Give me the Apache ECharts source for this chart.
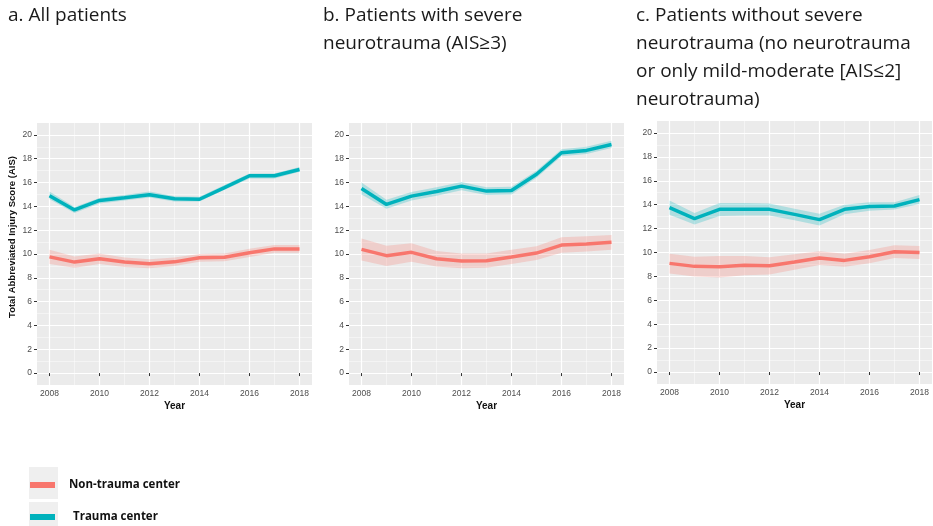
<!DOCTYPE html>
<html>
<head>
<meta charset="utf-8">
<script src="https://cdn.jsdelivr.net/npm/echarts@6/dist/echarts.min.js"></script>
<style>
  html, body { margin: 0; padding: 0; background: #fff; }
  #chart { width: 933px; height: 526px; }
</style>
</head>
<body>
<div id="chart"></div>
<script>
// years on the x axis
const years = [2008, 2009, 2010, 2011, 2012, 2013, 2014, 2015, 2016, 2017, 2018]
const xMajor = [2008, 2010, 2012, 2014, 2016, 2018]
const xMinor = [2009, 2011, 2013, 2015, 2017]
const yMajor = [0, 2, 4, 6, 8, 10, 12, 14, 16, 18, 20]
const yMinor = [1, 3, 5, 7, 9, 11, 13, 15, 17, 19]

const seriesNames = ['Non-trauma center', 'Trauma center']
const panelTitles = [
  ['a. All patients'],
  ['b. Patients with severe', 'neurotrauma (AIS≥3)'],
  ['c. Patients without severe', 'neurotrauma (no neurotrauma', 'or only mild-moderate [AIS≤2]', 'neurotrauma)']
]

// a. all patients
const aNonTrauma = [9.76, 9.32, 9.6, 9.32, 9.18, 9.34, 9.68, 9.73, 10.1, 10.43, 10.43]
const aNonTraumaLo = [9.15, 8.85, 9.15, 8.9, 8.8, 9.0, 9.35, 9.4, 9.75, 10.1, 10.1]
const aNonTraumaHi = [10.35, 9.8, 10.05, 9.7, 9.55, 9.7, 10.0, 10.05, 10.45, 10.75, 10.75]
const aTrauma = [14.9, 13.7, 14.5, 14.72, 14.98, 14.64, 14.6, 15.58, 16.57, 16.57, 17.1]
const aTraumaLo = [14.6, 13.45, 14.25, 14.5, 14.75, 14.4, 14.4, 15.4, 16.35, 16.35, 16.9]
const aTraumaHi = [15.25, 13.95, 14.7, 14.95, 15.25, 14.85, 14.8, 15.8, 16.75, 16.75, 17.3]

// b. severe neurotrauma
const bNonTrauma = [10.39, 9.86, 10.14, 9.6, 9.41, 9.44, 9.75, 10.08, 10.75, 10.84, 10.98]
const bNonTraumaLo = [9.45, 9.0, 9.35, 8.95, 8.8, 8.85, 9.15, 9.5, 10.1, 10.2, 10.35]
const bNonTraumaHi = [11.3, 10.7, 10.9, 10.25, 10.05, 10.05, 10.35, 10.65, 11.4, 11.5, 11.6]
const bTrauma = [15.5, 14.16, 14.86, 15.25, 15.7, 15.28, 15.33, 16.7, 18.5, 18.7, 19.2]
const bTraumaLo = [15.0, 13.8, 14.5, 14.9, 15.35, 14.95, 15.0, 16.4, 18.2, 18.4, 18.9]
const bTraumaHi = [16.0, 14.55, 15.2, 15.6, 16.05, 15.6, 15.65, 17.0, 18.8, 19.0, 19.5]

// c. without severe neurotrauma
const cNonTrauma = [9.09, 8.84, 8.81, 8.93, 8.9, 9.2, 9.54, 9.34, 9.65, 10.07, 9.99]
const cNonTraumaLo = [8.25, 8.0, 7.9, 8.1, 8.15, 8.55, 8.95, 8.8, 9.1, 9.55, 9.45]
const cNonTraumaHi = [9.9, 9.65, 9.7, 9.7, 9.6, 9.85, 10.1, 9.9, 10.2, 10.6, 10.55]
const cTrauma = [13.75, 12.83, 13.61, 13.61, 13.61, 13.19, 12.75, 13.61, 13.84, 13.89, 14.42]
const cTraumaLo = [13.15, 12.35, 13.05, 13.1, 13.1, 12.7, 12.25, 13.2, 13.5, 13.6, 14.05]
const cTraumaHi = [14.35, 13.3, 14.15, 14.15, 14.1, 13.65, 13.25, 14.0, 14.2, 14.2, 14.8]

const panels = [
  { nt: aNonTrauma, ntLo: aNonTraumaLo, ntHi: aNonTraumaHi, t: aTrauma, tLo: aTraumaLo, tHi: aTraumaHi },
  { nt: bNonTrauma, ntLo: bNonTraumaLo, ntHi: bNonTraumaHi, t: bTrauma, tLo: bTraumaLo, tHi: bTraumaHi },
  { nt: cNonTrauma, ntLo: cNonTraumaLo, ntHi: cNonTraumaHi, t: cTrauma, tLo: cTraumaLo, tHi: cTraumaHi }
]

const red = '#F8766D'
const teal = '#00B2BC'
const axisFont = 'Liberation Sans, Arial, sans-serif'

const grids = [
  { left: 37, top: 123, width: 275, height: 262 },
  { left: 349, top: 123, width: 275, height: 262 },
  { left: 657, top: 121, width: 275, height: 263 }
]

const chart = echarts.init(document.getElementById('chart'))

const xAxes = []
const yAxes = []
const series = []

grids.forEach((g, i) => {
  // main axes (labels, ticks, major grid)
  xAxes.push({
    type: 'value', gridIndex: i, min: 2007.5, max: 2018.5,
    axisLine: { show: false },
    axisTick: { show: true, customValues: xMajor, length: 3, lineStyle: { color: '#333', width: 1 } },
    axisLabel: { customValues: xMajor, formatter: v => String(v), color: '#4D4D4D', fontSize: 8.5, margin: 4, fontFamily: axisFont },
    splitLine: { show: true, lineStyle: { color: '#fff', width: 1.2 } },
    name: 'Year', nameLocation: 'middle', nameGap: 16,
    nameTextStyle: { fontWeight: 'bold', fontSize: 10, color: '#111', fontFamily: axisFont }
  })
  // minor grid
  xAxes.push({
    type: 'value', gridIndex: i, min: 2007.5, max: 2018.5,
    axisLine: { show: false },
    axisTick: { show: false, customValues: xMinor },
    axisLabel: { show: false },
    splitLine: { show: true, lineStyle: { color: 'rgba(255,255,255,0.75)', width: 0.6 } }
  })
  yAxes.push({
    type: 'value', gridIndex: i, min: -1, max: 21,
    axisLine: { show: false },
    axisTick: { show: true, customValues: yMajor, length: 3, lineStyle: { color: '#333', width: 1 } },
    axisLabel: { customValues: yMajor, color: '#4D4D4D', fontSize: 8.5, margin: 5, fontFamily: axisFont },
    splitLine: { show: true, lineStyle: { color: '#fff', width: 1.2 } }
  })
  yAxes.push({
    type: 'value', gridIndex: i, min: -1, max: 21,
    axisLine: { show: false },
    axisTick: { show: false, customValues: yMinor },
    axisLabel: { show: false },
    splitLine: { show: true, lineStyle: { color: 'rgba(255,255,255,0.75)', width: 0.6 } }
  })
})

// confidence band drawn as one polygon through the axis scale
const band = (lo, hi, color, idx) => ({
  type: 'custom',
  xAxisIndex: idx * 2,
  yAxisIndex: idx * 2,
  silent: true,
  z: 1,
  data: [[years[0], lo[0]]],
  renderItem: (params, api) => {
    const pts = []
    years.forEach((y, k) => pts.push(api.coord([y, hi[k]])))
    for (let k = years.length - 1; k >= 0; k--) pts.push(api.coord([years[k], lo[k]]))
    return { type: 'polygon', shape: { points: pts }, style: { fill: color, opacity: 0.25 } }
  }
})

const line = (name, vals, color, idx) => ({
  type: 'line',
  name: name,
  xAxisIndex: idx * 2,
  yAxisIndex: idx * 2,
  data: years.map((y, k) => [y, vals[k]]),
  symbol: 'none',
  color: color,
  lineStyle: { width: 3.5, color: color },
  z: 3
})

panels.forEach((p, i) => {
  series.push(line(seriesNames[0], p.nt, red, i))
  series.push(line(seriesNames[1], p.t, teal, i))
  series.push(band(p.ntLo, p.ntHi, red, i))
  series.push(band(p.tLo, p.tHi, teal, i))
})

// panel titles
const titleX = [8, 323, 636]
const graphics = []
panelTitles.forEach((lines, i) => {
  lines.forEach((txt, j) => {
    graphics.push({
      type: 'text', left: titleX[i], top: 6 + j * 28,
      style: { text: txt, fill: '#1a1a1a', font: '19px "Open Sans", sans-serif' }
    })
  })
})
// y axis title for panel a
graphics.push({
  type: 'text', x: 12, y: 237, rotation: Math.PI / 2,
  style: { text: 'Total Abbreviated Injury Score (AIS)', fill: '#111', align: 'center', verticalAlign: 'middle',
    font: 'bold 9.5px "Liberation Sans", Arial, sans-serif' }
})
// legend key backgrounds
graphics.push({ type: 'rect', shape: { x: 29, y: 467, width: 29, height: 32 }, style: { fill: '#EFEFEF' }, z: -1 })
graphics.push({ type: 'rect', shape: { x: 29, y: 502, width: 29, height: 26 }, style: { fill: '#EFEFEF' }, z: -1 })

// one legend per key so each row sits in its own box
const legendBase = {
  icon: 'rect',
  itemWidth: 25,
  itemHeight: 6,
  padding: 0,
  left: 30
}
chart.setOption({
  animation: false,
  grid: grids.map(g => Object.assign({ show: true, backgroundColor: '#EBEBEB', borderWidth: 0 }, g)),
  xAxis: xAxes,
  yAxis: yAxes,
  series: series,
  legend: [
    Object.assign({}, legendBase, {
      data: [seriesNames[0]], top: 479,
      textStyle: { fontWeight: 'bold', fontSize: 11.5, color: '#111', fontFamily: '"Open Sans", sans-serif', padding: [0, 0, 0, 9] }
    }),
    Object.assign({}, legendBase, {
      data: [seriesNames[1]], top: 511,
      textStyle: { fontWeight: 'bold', fontSize: 11.5, color: '#111', fontFamily: '"Open Sans", sans-serif', padding: [0, 0, 0, 13] }
    })
  ],
  graphic: graphics
})
</script>
</body>
</html>
